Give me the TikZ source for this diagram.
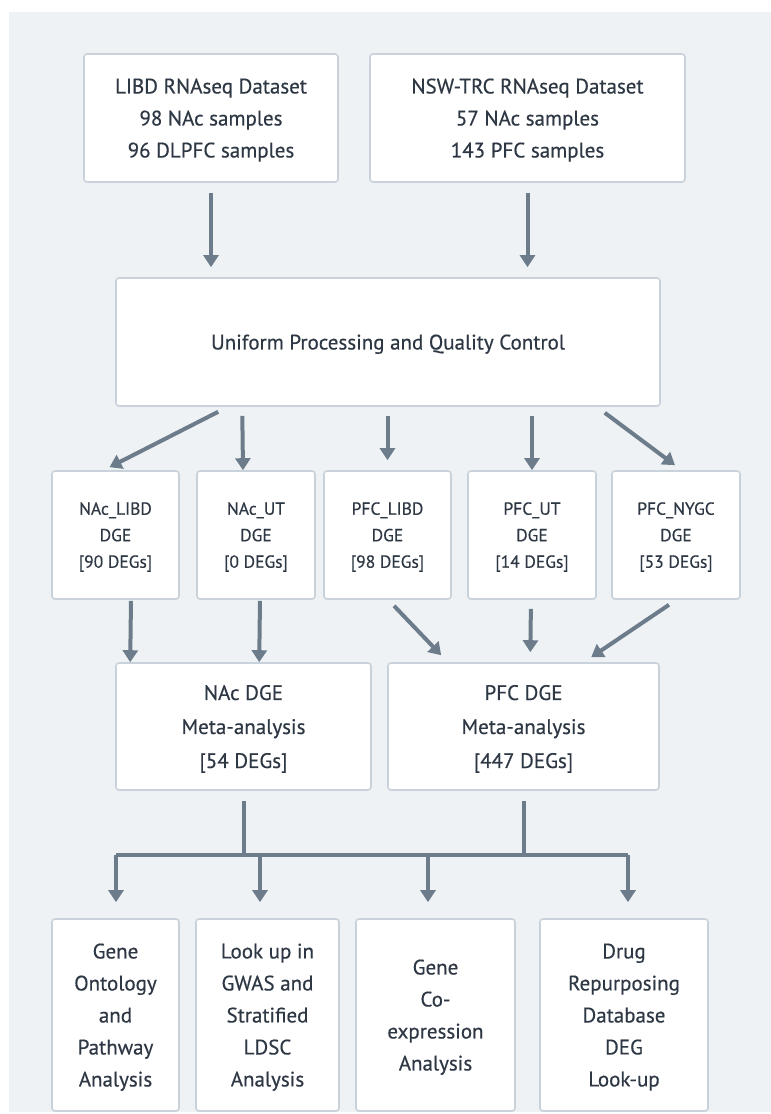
\documentclass[tikz,border=0pt]{standalone}
\usepackage{fontspec}
\setmainfont{PT Sans}[FakeBold=0.45]
\usepackage{tikz}
\usetikzlibrary{arrows.meta,calc,positioning}

\definecolor{bgc}{HTML}{EEF2F5}
\definecolor{edc}{HTML}{C9D2DB}
\definecolor{arc}{HTML}{6D7C8B}
\definecolor{txc}{HTML}{2E3844}

\begin{document}
\begin{tikzpicture}[x=1pt, y=-1pt, font=\fontsize{21}{32}\selectfont, text=txc,
    blk/.style={draw=edc, line width=1.6pt, fill=white, rounded corners=3pt, align=center, inner sep=0pt, text depth=-7.5pt},
    sml/.style={blk, font=\fontsize{17.5}{26.5}\selectfont},
    arr/.style={draw=arc, line width=4pt, -{Triangle[width=15pt,length=12pt]}},
    lin/.style={draw=arc, line width=4pt}]

    \useasboundingbox (0,0) rectangle (771,1114);
    \fill[bgc] (9,12) rectangle (771,1112);

    % sources
    \node[blk, minimum width=254pt, minimum height=128pt] (libd) at (211,118)   {LIBD RNAseq Dataset\\98 NAc samples\\96 DLPFC samples};
    \node[blk, minimum width=315pt, minimum height=128pt] (nsw)  at (527.5,118) {NSW-TRC RNAseq Dataset\\57 NAc samples\\143 PFC samples};

    \node[blk, minimum width=544pt, minimum height=128pt] (unif) at (388,342) {Uniform Processing and Quality Control};

    % per-dataset DGE
    \node[sml, minimum width=127pt, minimum height=128pt] (naclibd) at (115.5,535) {NAc\_LIBD\\DGE\\{[}90 DEGs{]}};
    \node[sml, minimum width=118pt, minimum height=128pt] (nacut)   at (256,535)   {NAc\_UT\\DGE\\{[}0 DEGs{]}};
    \node[sml, minimum width=127pt, minimum height=128pt] (pfclibd) at (387.5,535) {PFC\_LIBD\\DGE\\{[}98 DEGs{]}};
    \node[sml, minimum width=128pt, minimum height=128pt] (pfcut)   at (532,535)   {PFC\_UT\\DGE\\{[}14 DEGs{]}};
    \node[sml, minimum width=128pt, minimum height=128pt] (pfcnygc) at (676,535)   {PFC\_NYGC\\DGE\\{[}53 DEGs{]}};

    % meta-analyses
    \node[blk, minimum width=255pt, minimum height=127pt, font=\fontsize{21}{34}\selectfont] (nacmeta) at (243.5,726.5) {NAc DGE\\Meta-analysis\\{[}54 DEGs{]}};
    \node[blk, minimum width=271pt, minimum height=127pt, font=\fontsize{21}{34}\selectfont] (pfcmeta) at (523.5,726.5) {PFC DGE\\Meta-analysis\\{[}447 DEGs{]}};

    % follow-up
    \node[blk, minimum width=127pt, minimum height=192pt] (gopath) at (115.5,1015) {Gene\\Ontology\\and\\Pathway\\Analysis};
    \node[blk, minimum width=143pt, minimum height=192pt] (gwas)   at (267.5,1015) {Look up in\\GWAS and\\Stratified\\LDSC\\Analysis};
    \node[blk, minimum width=159pt, minimum height=192pt] (coexp)  at (435.5,1015) {Gene\\Co-\\expression\\Analysis};
    \node[blk, minimum width=168pt, minimum height=192pt] (drug)   at (624,1015)   {Drug\\Repurposing\\Database\\DEG\\Look-up};

    \coordinate (bar) at (0,855);

    \draw[arr, shorten <=10pt, shorten >=10pt] (libd) -- (libd |- unif.north);
    \draw[arr, shorten <=10pt, shorten >=10pt] (nsw) -- (nsw |- unif.north);

    \draw[arr] ($(unif.south west)+(103,5)$) -- ($(naclibd.north)+(-6,-3)$);
    \draw[arr, shorten <=9pt] ($(unif.south west)+(127,0)$) -- ($(nacut.north)+(-13,0)$);
    \draw[arr, shorten <=9pt, shorten >=10pt] (pfclibd.north |- unif.south) -- (pfclibd.north);
    \draw[arr, shorten <=9pt] (pfcut.north |- unif.south) -- (pfcut.north);
    \draw[arr] ($(unif.south east)+(-56,6)$) -- ($(pfcnygc.north)+(-1,-5)$);

    \draw[arr, shorten <=1pt] ($(naclibd.south)+(15.5,0)$) -- ($(nacmeta.north west)+(15,0)$);
    \draw[arr, shorten <=1pt] ($(nacut.south)+(4,0)$) -- ($(nacmeta.north west)+(144,0)$);
    \draw[arr] ($(pfclibd.south)+(6.5,6)$) -- ($(pfcmeta.north west)+(54,-7)$);
    \draw[arr, shorten <=9pt, shorten >=10pt] ($(pfcut.south)+(-1,0)$) -- ($(pfcmeta.north west)+(143,0)$);
    \draw[arr] ($(pfcnygc.south)+(-7,5)$) -- ($(pfcmeta.north west)+(204,-5)$);

    \draw[lin, shorten <=10pt] (nacmeta) -- (nacmeta |- bar);
    \draw[lin, shorten <=10pt] (pfcmeta) -- (pfcmeta |- bar);
    \draw[lin] ($(gopath.north |- bar)+(0.5,0)$) -- ($(drug.north |- bar)+(4,0)$);

    \draw[arr, shorten >=16pt] ($(gopath.north |- bar)+(0.5,0)$) -- ($(gopath.north)+(0.5,0)$);
    \draw[arr, shorten >=16pt] ($(gwas.north |- bar)+(-7.5,0)$) -- ($(gwas.north)+(-7.5,0)$);
    \draw[arr, shorten >=16pt] ($(coexp.north |- bar)+(-7.5,0)$) -- ($(coexp.north)+(-7.5,0)$);
    \draw[arr, shorten >=16pt] ($(drug.north |- bar)+(4,0)$) -- ($(drug.north)+(4,0)$);

\end{tikzpicture}
\end{document}
